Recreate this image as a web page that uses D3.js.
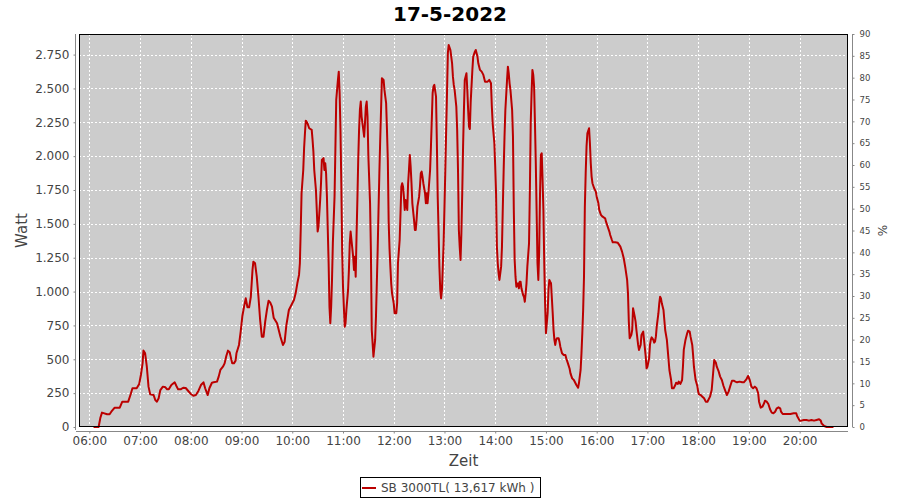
<!DOCTYPE html>
<html><head><meta charset="utf-8">
<script src="https://cdn.jsdelivr.net/npm/d3@7"></script>
<style>body{margin:0;background:#fff;} svg{display:block;font-family:"DejaVu Sans",sans-serif;}</style>
</head><body><svg id="c" width="900" height="500"></svg>
<script>
const title = "17-5-2022";
const seriesName = "SB 3000TL( 13,617 kWh )";
const times = ["06:05","06:11","06:13","06:15","06:21","06:24","06:26","06:30","06:36","06:39","06:46","06:49","06:51","06:56","06:59","07:01","07:03","07:04","07:06","07:08","07:10","07:12","07:16","07:18","07:20","07:22","07:24","07:27","07:30","07:32","07:34","07:37","07:41","07:43","07:45","07:48","07:51","07:54","07:57","08:00","08:03","08:06","08:09","08:12","08:15","08:17","08:20","08:22","08:25","08:27","08:31","08:33","08:35","08:38","08:40","08:42","08:44","08:46","08:49","08:51","08:53","08:54","08:57","08:59","09:01","09:03","09:05","09:07","09:09","09:11","09:13","09:14","09:16","09:18","09:20","09:22","09:24","09:26","09:28","09:30","09:32","09:34","09:36","09:38","09:42","09:44","09:46","09:49","09:51","09:53","09:56","09:59","10:02","10:04","10:06","10:08","10:09","10:10","10:11","10:13","10:14","10:15","10:16","10:18","10:20","10:23","10:24","10:25","10:26","10:28","10:29","10:30","10:31","10:32","10:33","10:34","10:35","10:37","10:38","10:39","10:40","10:41","10:42","10:43","10:44","10:45","10:46","10:47","10:48","10:50","10:51","10:52","10:54","10:55","10:56","10:57","10:58","10:59","11:00","11:02","11:03","11:04","11:06","11:07","11:08","11:09","11:10","11:12","11:13","11:14","11:15","11:16","11:17","11:18","11:19","11:20","11:21","11:22","11:24","11:25","11:26","11:27","11:28","11:29","11:30","11:32","11:33","11:34","11:35","11:36","11:38","11:39","11:40","11:41","11:42","11:43","11:44","11:45","11:46","11:48","11:49","11:51","11:52","11:53","11:54","11:55","11:56","11:57","11:58","12:00","12:01","12:03","12:04","12:05","12:07","12:08","12:09","12:10","12:11","12:12","12:13","12:14","12:16","12:17","12:18","12:19","12:20","12:21","12:22","12:24","12:25","12:26","12:27","12:28","12:30","12:31","12:32","12:33","12:34","12:35","12:37","12:38","12:39","12:40","12:41","12:43","12:44","12:45","12:46","12:47","12:48","12:50","12:51","12:52","12:53","12:54","12:55","12:56","12:57","12:59","13:00","13:01","13:02","13:03","13:04","13:05","13:07","13:08","13:09","13:10","13:11","13:12","13:14","13:15","13:16","13:17","13:18","13:19","13:20","13:21","13:22","13:23","13:24","13:26","13:27","13:28","13:29","13:30","13:31","13:33","13:34","13:36","13:37","13:39","13:40","13:42","13:44","13:46","13:48","13:51","13:53","13:55","13:56","13:57","13:59","14:00","14:01","14:02","14:03","14:04","14:05","14:07","14:08","14:09","14:10","14:11","14:12","14:14","14:15","14:16","14:17","14:18","14:20","14:21","14:22","14:23","14:24","14:25","14:27","14:28","14:29","14:30","14:31","14:33","14:34","14:35","14:36","14:37","14:38","14:40","14:41","14:42","14:43","14:44","14:45","14:46","14:47","14:48","14:49","14:50","14:51","14:52","14:53","14:54","14:55","14:56","14:57","14:58","14:59","15:00","15:01","15:02","15:03","15:04","15:05","15:06","15:08","15:09","15:10","15:11","15:12","15:13","15:15","15:16","15:17","15:19","15:21","15:23","15:24","15:26","15:28","15:29","15:31","15:33","15:36","15:38","15:39","15:41","15:42","15:43","15:44","15:45","15:46","15:47","15:48","15:49","15:51","15:52","15:53","15:54","15:55","15:57","15:59","16:00","16:02","16:03","16:05","16:07","16:10","16:11","16:13","16:15","16:16","16:18","16:19","16:22","16:25","16:28","16:30","16:32","16:34","16:36","16:37","16:38","16:39","16:41","16:42","16:43","16:45","16:46","16:47","16:49","16:50","16:52","16:53","16:55","16:56","16:58","16:59","17:00","17:02","17:03","17:04","17:05","17:07","17:08","17:09","17:10","17:11","17:13","17:14","17:15","17:16","17:17","17:19","17:20","17:21","17:23","17:24","17:25","17:26","17:28","17:29","17:31","17:33","17:34","17:36","17:37","17:39","17:41","17:42","17:43","17:45","17:47","17:48","17:50","17:51","17:53","17:54","17:55","17:56","17:57","17:59","18:00","18:01","18:03","18:05","18:07","18:09","18:11","18:14","18:16","18:17","18:18","18:19","18:21","18:22","18:24","18:26","18:28","18:30","18:32","18:34","18:36","18:38","18:40","18:42","18:44","18:46","18:49","18:52","18:54","18:57","18:59","19:01","19:03","19:05","19:07","19:09","19:11","19:12","19:14","19:16","19:18","19:19","19:21","19:23","19:25","19:27","19:29","19:31","19:33","19:35","19:37","19:38","19:40","19:43","19:45","19:49","19:53","19:56","19:57","20:00","20:02","20:05","20:08","20:11","20:14","20:17","20:20","20:23","20:25","20:26","20:29","20:32","20:40"];
const watts = [0,0,66,106,94,94,113,143,143,187,187,244,286,286,318,384,470,564,544,445,298,241,236,199,187,212,273,298,293,278,278,310,330,303,278,278,290,288,266,244,231,236,266,310,330,286,236,286,327,330,335,372,421,445,470,524,564,552,470,470,490,544,606,704,820,889,950,884,884,962,1160,1221,1209,1110,962,790,667,667,778,864,933,918,889,807,766,716,667,606,630,750,864,901,938,987,1061,1123,1209,1455,1726,1898,2058,2169,2262,2243,2206,2194,2120,2033,1898,1750,1600,1443,1480,1578,1677,1800,1972,1985,1898,1948,1874,1701,1455,1209,889,766,889,1086,1357,1701,2050,2416,2563,2624,2465,2194,1800,1307,1036,741,766,864,1012,1160,1357,1443,1381,1258,1160,1258,1110,1406,1677,1972,2194,2341,2403,2292,2194,2144,2243,2366,2403,2292,1997,1652,1294,716,618,519,643,815,1061,1307,1603,1874,2120,2341,2575,2563,2489,2391,2194,1972,1516,1320,1184,1061,987,913,840,840,913,1209,1381,1578,1775,1800,1775,1701,1603,1677,1603,1800,1898,2009,1923,1800,1652,1529,1455,1455,1529,1627,1701,1775,1874,1886,1849,1800,1726,1652,1726,1652,1726,1898,2070,2268,2465,2514,2526,2440,2100,1701,1455,1184,1012,950,1012,1357,1627,1898,2194,2465,2760,2821,2784,2735,2686,2587,2526,2489,2366,2194,1898,1455,1332,1233,1431,1726,2070,2341,2563,2612,2489,2341,2218,2200,2400,2637,2735,2772,2784,2735,2686,2637,2624,2600,2550,2550,2563,2538,2366,2243,2095,1923,1726,1332,1209,1135,1086,1184,1332,1627,1898,2144,2341,2563,2661,2612,2538,2489,2341,2144,1600,1233,1110,1036,1061,1024,1073,1073,1024,975,962,925,987,1061,1184,1357,1750,2243,2465,2637,2600,2514,2243,1948,1578,1209,1086,1300,1726,2009,2021,1824,1600,1209,913,692,766,840,1012,1086,1073,1061,840,716,643,606,643,655,655,630,593,544,532,532,507,470,430,396,359,347,310,290,323,421,544,692,864,1110,1627,1874,2070,2169,2206,2095,1948,1849,1800,1763,1738,1701,1652,1603,1566,1553,1541,1516,1480,1443,1418,1381,1364,1364,1360,1332,1295,1246,1172,1086,987,778,655,680,716,877,815,778,716,606,569,606,680,704,643,519,433,445,507,606,643,662,643,623,630,667,741,840,913,962,950,913,864,790,716,643,569,495,421,347,286,286,310,327,318,335,318,347,445,569,643,692,711,704,667,606,532,445,396,347,303,261,241,236,224,212,187,187,224,273,347,421,495,475,445,415,372,347,303,268,236,261,303,342,342,335,330,335,330,330,352,377,347,298,286,298,286,249,187,143,150,175,194,187,170,131,106,101,113,138,145,138,113,96,96,96,96,101,101,81,47,47,52,52,47,52,47,52,57,47,27,7,0,0];
const wattTicks = [0,250,500,750,1000,1250,1500,1750,2000,2250,2500,2750];
const wattTickLabels = ["0","250","500","750","1.000","1.250","1.500","1.750","2.000","2.250","2.500","2.750"];
const pctTicks = [0,5,10,15,20,25,30,35,40,45,50,55,60,65,70,75,80,85,90];
const hourTicks = ["06:00","07:00","08:00","09:00","10:00","11:00","12:00","13:00","14:00","15:00","16:00","17:00","18:00","19:00","20:00"];
const xRange = ["05:47:48","20:57:12"];
const wattMax = 2902, pctMax = 90;

const parseT = s => { const p = s.split(":").map(Number); return new Date(2022,4,17,p[0],p[1],p[2]||0); };
const data = times.map((t,i)=>({t:parseT(t), v:watts[i]}));

const L=79, R=848, T=34, B=427;
const svg = d3.select("#c");
const x = d3.scaleTime().domain(xRange.map(parseT)).range([L,R]);
const y = d3.scaleLinear().domain([0,wattMax]).range([B,T]);
const y2 = d3.scaleLinear().domain([0,pctMax]).range([B,T]);

// title
svg.append("text").attr("x",450).attr("y",21).attr("text-anchor","middle")
  .attr("font-size",20).attr("font-weight","bold").attr("fill","#000").text(title);

// plot background
svg.append("rect").attr("x",L).attr("y",T).attr("width",R-L).attr("height",B-T).attr("fill","#cccccc");

// grid
const g = svg.append("g");
g.selectAll(".hg").data(wattTicks.slice(1)).enter().append("line")
  .attr("x1",L).attr("x2",R).attr("y1",d=>Math.round(y(d))+0.5).attr("y2",d=>Math.round(y(d))+0.5)
  .attr("stroke","#fff").attr("stroke-width",1).attr("stroke-dasharray","2,2");
g.selectAll(".vg").data(hourTicks.map(parseT)).enter().append("line")
  .attr("y1",T).attr("y2",B).attr("x1",d=>Math.round(x(d))+0.5).attr("x2",d=>Math.round(x(d))+0.5)
  .attr("stroke","#fff").attr("stroke-width",1).attr("stroke-dasharray","2,2");

// line
svg.append("path").datum(data)
  .attr("d", d3.line().x(d=>x(d.t)).y(d=>y(d.v)))
  .attr("fill","none").attr("stroke","#bb0000").attr("stroke-width",2).attr("stroke-linejoin","round");

// border
svg.append("rect").attr("x",L+0.5).attr("y",T+0.5).attr("width",R-L-1).attr("height",B-T-1)
  .attr("fill","none").attr("stroke","#000").attr("stroke-width",1);

// axes
function styleAxis(sel, fs){
  sel.select(".domain").attr("stroke","#888");
  sel.selectAll(".tick line").attr("stroke","#888");
  sel.selectAll(".tick text").attr("fill","#444").attr("font-size",fs).attr("font-family","DejaVu Sans, sans-serif");
}
const ax = svg.append("g").attr("transform",`translate(${L-3.5},0)`)
  .call(d3.axisLeft(y).tickValues(wattTicks).tickFormat((d,i)=>wattTickLabels[i]).tickSize(2).tickSizeOuter(0).tickPadding(4));
styleAxis(ax,12);
const ax2 = svg.append("g").attr("transform",`translate(${R+4.5},0)`)
  .call(d3.axisRight(y2).tickValues(pctTicks).tickSize(2).tickSizeOuter(0).tickPadding(5));
styleAxis(ax2,8.5);
const axx = svg.append("g").attr("transform",`translate(0,${B+4.5})`)
  .call(d3.axisBottom(x).tickValues(hourTicks.map(parseT)).tickFormat(d3.timeFormat("%H:%M")).tickSize(2).tickSizeOuter(0).tickPadding(3));
styleAxis(axx,12);
axx.select(".domain").attr("d",`M${L-3},0H${R}`);
ax.select(".domain").attr("d",`M0,${T}V${B+3}`);
ax2.select(".domain").attr("d",`M0,${T}V${B}`);

// axis titles
svg.append("text").attr("transform",`translate(27,${(T+B)/2}) rotate(-90)`).attr("text-anchor","middle")
  .attr("font-size",15).attr("fill","#444").text("Watt");
svg.append("text").attr("transform",`translate(887,${(T+B)/2}) rotate(-90)`).attr("text-anchor","middle")
  .attr("font-size",12).attr("fill","#444").text("%");
svg.append("text").attr("x",(L+R)/2).attr("y",466).attr("text-anchor","middle")
  .attr("font-size",15).attr("fill","#444").text("Zeit");

// legend
const lg = svg.append("g");
lg.append("rect").attr("x",360.5).attr("y",477.5).attr("width",180).attr("height",20).attr("fill","#fff").attr("stroke","#000");
lg.append("line").attr("x1",362).attr("x2",376).attr("y1",488).attr("y2",488).attr("stroke","#bb0000").attr("stroke-width",2);
lg.append("text").attr("x",381).attr("y",492).attr("font-size",12).attr("fill","#444").text(seriesName);
</script></body></html>
